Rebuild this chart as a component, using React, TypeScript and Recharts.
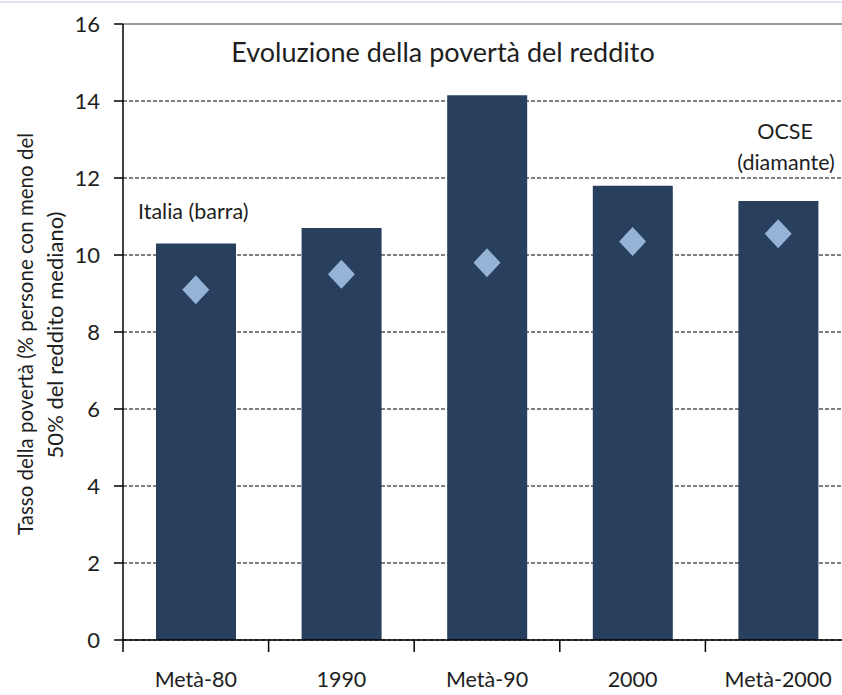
import { ComposedChart, Bar, Scatter, XAxis, YAxis, CartesianGrid, ReferenceLine, Customized } from 'recharts'

const periodi = ['Metà-80', '1990', 'Metà-90', '2000', 'Metà-2000']
const italia = [10.3, 10.7, 14.15, 11.8, 11.4]
const ocse = [9.1, 9.5, 9.8, 10.35, 10.55]
const yTicks = [0, 2, 4, 6, 8, 10, 12, 14, 16]

const data = periodi.map((p, i) => ({ periodo: p, italia: italia[i], ocse: ocse[i] }))

const font = 'Lato, "Open Sans", sans-serif'
const textColor = '#1e1e1e'

function Diamante(props: any) {
  const { cx, cy } = props
  if (cx == null || cy == null) return null
  const w = 13.5
  const h = 14.5
  return (
    <polygon
      points={`${cx},${cy - h} ${cx + w},${cy} ${cx},${cy + h} ${cx - w},${cy}`}
      fill="#95b3d7"
    />
  )
}

function XTick(props: any) {
  const { x, payload } = props
  const half = payload?.offset ?? 72.8
  return (
    <g>
      <line x1={x - half} x2={x - half} y1={640} y2={652} stroke="#000" strokeWidth={1.5} />
      <text x={x} y={687} textAnchor="middle" fontSize={21.5} fill={textColor} fontFamily={font}>
        {payload.value}
      </text>
    </g>
  )
}

function Annotazioni() {
  return (
    <g fontFamily={font} fill={textColor}>
      <text x={443} y={62} textAnchor="middle" fontSize={27}>Evoluzione della povertà del reddito</text>
      <text x={138} y={219} fontSize={21.5}>Italia (barra)</text>
      <text x={785} y={139} textAnchor="middle" fontSize={21.5}>OCSE</text>
      <text x={786} y={170} textAnchor="middle" fontSize={21.5}>(diamante)</text>
      <text transform="translate(33,334) rotate(-90)" textAnchor="middle" fontSize={20.5}>
        Tasso della povertà (% persone con meno del
      </text>
      <text transform="translate(63,335) rotate(-90)" textAnchor="middle" fontSize={22}>
        50% del reddito mediano)
      </text>
    </g>
  )
}

export default function App() {
  return (
    <div style={{ position: 'absolute', left: 0, top: 0, width: 842, height: 695, overflow: 'hidden', background: '#fff' }}>
      <div style={{ position: 'absolute', left: 0, top: 1, width: 842, height: 2, background: '#dde4ef' }} />
      <ComposedChart
        width={860}
        height={695}
        data={data}
        margin={{ top: 24, right: 9, left: 0, bottom: 0 }}
        barCategoryGap={0}
      >
        <CartesianGrid vertical={false} stroke="#000" strokeDasharray="4 2" />
        <ReferenceLine y={16} stroke="#9a9a9a" strokeWidth={2} />
        <XAxis
          dataKey="periodo"
          height={55}
          axisLine={{ stroke: '#000', strokeWidth: 1.5 }}
          tickLine={false}
          tick={<XTick />}
          interval={0}
        />
        <YAxis
          width={123}
          domain={[0, 16]}
          ticks={yTicks}
          interval={0}
          axisLine={{ stroke: '#000', strokeWidth: 1.5 }}
          tickLine={{ stroke: '#000', strokeWidth: 1.5 }}
          tickSize={9}
          tickMargin={14}
          tick={{ fontSize: 22, fill: textColor, fontFamily: font }}
        />
        <Bar dataKey="italia" fill="#283f5e" barSize={80} isAnimationActive={false} />
        <Scatter dataKey="ocse" shape={<Diamante />} isAnimationActive={false} />
        <Customized component={Annotazioni} />
      </ComposedChart>
    </div>
  )
}
